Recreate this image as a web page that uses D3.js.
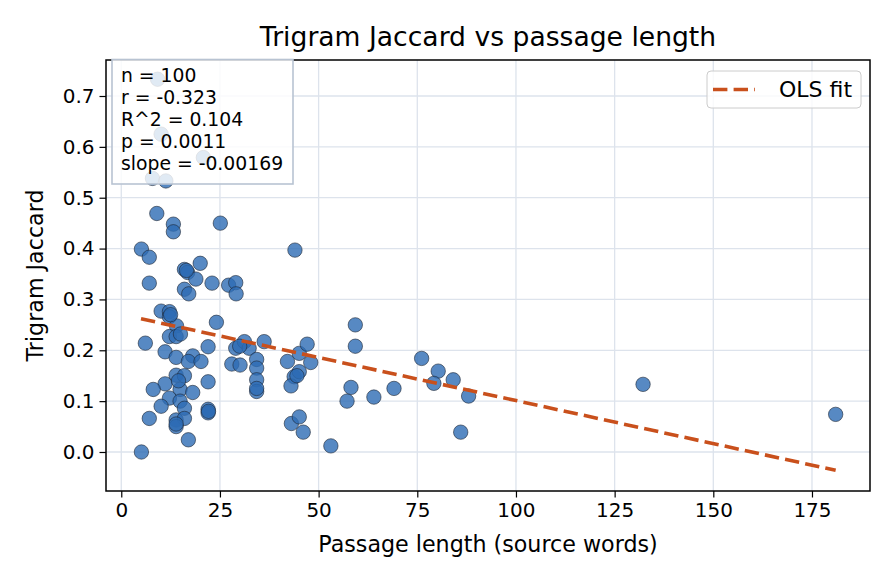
<!DOCTYPE html>
<html><head><meta charset="utf-8">
<script src="https://cdn.jsdelivr.net/npm/d3@7"></script>
<style>body{margin:0;background:#fff}svg{display:block;font-family:"DejaVu Sans",sans-serif}</style>
</head><body>
<script>
const passageLength = [9.2,10.1,20.8,7.9,11.3,9.0,13.2,13.2,25.1,5.1,7.1,44.0,16.0,16.8,20.0,18.9,7.1,23.0,27.2,29.0,29.1,16.0,17.1,10.1,12.2,12.2,14.0,24.1,6.1,12.2,13.9,11.1,13.9,18.1,17.0,20.2,22.0,13.9,16.0,11.1,8.1,14.9,18.1,22.0,12.2,14.9,10.1,16.0,22.0,22.0,7.1,13.9,16.0,13.9,17.0,5.1,29.0,31.2,32.4,36.2,28.0,30.1,34.3,34.3,34.3,34.3,42.1,45.1,47.1,48.0,43.8,43.0,45.1,43.1,45.1,46.1,53.1,59.3,59.3,58.2,57.2,64.0,69.1,76.1,80.3,79.2,84.1,88.0,86.0,132.2,181.0,14.5,15.0,16.5,13.9,34.3,22.1,12.5,30.0,44.5];
const trigramJaccard = [0.733,0.625,0.579,0.538,0.533,0.469,0.448,0.433,0.450,0.399,0.383,0.397,0.359,0.353,0.371,0.340,0.332,0.332,0.328,0.333,0.311,0.320,0.311,0.277,0.276,0.266,0.248,0.255,0.214,0.227,0.227,0.197,0.186,0.189,0.178,0.178,0.207,0.151,0.150,0.134,0.123,0.123,0.117,0.138,0.106,0.100,0.090,0.086,0.084,0.077,0.066,0.063,0.066,0.050,0.024,0.000,0.204,0.217,0.204,0.217,0.173,0.171,0.182,0.165,0.142,0.119,0.178,0.194,0.212,0.176,0.148,0.130,0.158,0.056,0.069,0.039,0.012,0.250,0.208,0.127,0.100,0.108,0.125,0.184,0.159,0.135,0.142,0.110,0.039,0.133,0.074,0.140,0.232,0.357,0.055,0.125,0.080,0.270,0.208,0.150];
const fitX = [5, 181];
const fitY = [0.262, -0.036];
const xTicks = [0,25,50,75,100,125,150,175];
const yTicks = [0.0,0.1,0.2,0.3,0.4,0.5,0.6,0.7];
const statsLines = ["n = 100","r = -0.323","R^2 = 0.104","p = 0.0011","slope = -0.00169"];

const W=896,H=584, m={l:106,r:26,t:60,b:93};
const svg=d3.select("body").append("svg").attr("width",W).attr("height",H);
const x=d3.scaleLinear().domain([-3.87,189.7]).range([m.l,W-m.r]);
const y=d3.scaleLinear().domain([-0.0767,0.7708]).range([H-m.b,m.t]);
const gridC="#dde3ec";
const g=svg.append("g");
g.selectAll(".gx").data(xTicks).join("line").attr("x1",d=>x(d)).attr("x2",d=>x(d)).attr("y1",m.t).attr("y2",H-m.b).attr("stroke",gridC).attr("stroke-width",1.3);
g.selectAll(".gy").data(yTicks).join("line").attr("y1",d=>y(d)).attr("y2",d=>y(d)).attr("x1",m.l).attr("x2",W-m.r).attr("stroke",gridC).attr("stroke-width",1.3);

const pts=passageLength.map((v,i)=>({x:v,y:trigramJaccard[i]}));
svg.append("g").selectAll("circle").data(pts).join("circle")
 .attr("cx",d=>x(d.x)).attr("cy",d=>y(d.y)).attr("r",7.2)
 .attr("fill","#2d6cb4").attr("fill-opacity",0.8)
 .attr("stroke","#1c2533").attr("stroke-opacity",0.85).attr("stroke-width",0.7);

const line=d3.line().x(d=>x(d[0])).y(d=>y(d[1]));
svg.append("path").datum(fitX.map((v,i)=>[v,fitY[i]])).attr("d",line)
 .attr("fill","none").attr("stroke","#c9501c").attr("stroke-width",3.6).attr("stroke-dasharray","14.4,6.2");

// axes
const xa=d3.axisBottom(x).tickValues(xTicks).tickSize(6.5).tickPadding(5).tickFormat(d3.format("d"));
const ya=d3.axisLeft(y).tickValues(yTicks).tickSize(6.5).tickPadding(5).tickFormat(d3.format(".1f"));
const gx=svg.append("g").attr("transform",`translate(0,${H-m.b})`).call(xa);
const gy=svg.append("g").attr("transform",`translate(${m.l},0)`).call(ya);
[gx,gy].forEach(a=>{a.select(".domain").remove();a.selectAll("line").attr("stroke","#000").attr("stroke-width",1.2);
 a.selectAll("text").attr("font-size","20px").attr("fill","#000").attr("font-family","DejaVu Sans");});
svg.append("rect").attr("x",m.l).attr("y",m.t).attr("width",W-m.l-m.r).attr("height",H-m.t-m.b).attr("fill","none").attr("stroke","#000").attr("stroke-width",1.5);

// stats box
const sb=svg.append("g");
sb.append("rect").attr("x",112).attr("y",59.5).attr("width",181).attr("height",124.5).attr("fill","#fff").attr("fill-opacity",0.82).attr("stroke","#b8c3d2").attr("stroke-width",1.6);
sb.selectAll("text").data(statsLines).join("text").attr("x",121).attr("y",(d,i)=>82+i*22).text(d=>d)
 .attr("font-size","18.8px").attr("fill","#000");

// legend
const lg=svg.append("g");
lg.append("rect").attr("x",707).attr("y",71).attr("width",154).attr("height",37).attr("rx",4).attr("fill","#fff").attr("fill-opacity",0.8).attr("stroke","#cccccc").attr("stroke-width",1);
lg.append("line").attr("x1",713).attr("x2",755).attr("y1",89.5).attr("y2",89.5).attr("stroke","#c9501c").attr("stroke-width",3.6).attr("stroke-dasharray","14.4,6.2");
lg.append("text").attr("x",779).attr("y",97).text("OLS fit").attr("font-size","22px").attr("fill","#000");

// labels
svg.append("text").attr("x",(m.l+W-m.r)/2).attr("y",46).attr("text-anchor","middle").attr("font-size","26.6px").text("Trigram Jaccard vs passage length");
svg.append("text").attr("x",(m.l+W-m.r)/2).attr("y",552).attr("text-anchor","middle").attr("font-size","22.2px").text("Passage length (source words)");
svg.append("text").attr("transform",`translate(43,${(m.t+H-m.b)/2}) rotate(-90)`).attr("text-anchor","middle").attr("font-size","22.2px").text("Trigram Jaccard");
</script>
</body></html>
